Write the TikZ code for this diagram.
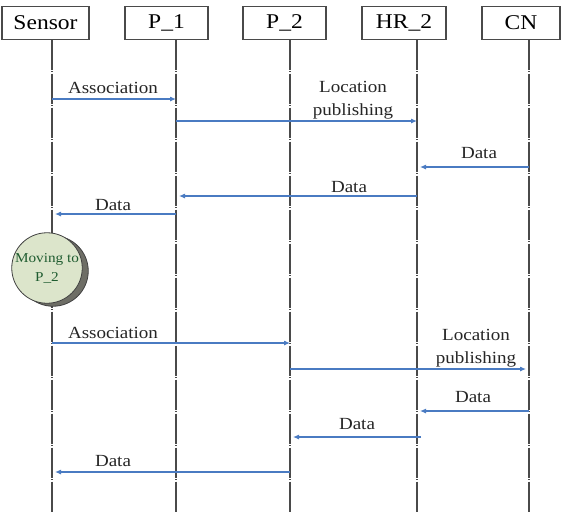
\documentclass[tikz,border=0pt]{standalone}
\usepackage{fontspec}
\setmainfont[FakeStretch=1.12]{Liberation Serif}
\usetikzlibrary{arrows.meta,shadows}
\definecolor{arrowblue}{HTML}{4A7BC2}
\definecolor{linegray}{HTML}{4A4A4A}
\definecolor{movefill}{HTML}{DCE5CB}
\definecolor{movetext}{HTML}{1F5C30}
\definecolor{shadowgray}{HTML}{6E6E66}
\tikzset{
  actor/.style={draw=linegray, line width=1.2pt, minimum height=33pt, inner sep=0pt, font=\fontsize{21}{24}\selectfont},
  lifeline/.style={draw=linegray, line width=1.3pt, dash pattern=on 30pt off 1.5pt on 1pt off 1.5pt},
  msg/.style={draw=arrowblue, line width=1.1pt, -{Latex[length=6pt,width=5pt]}},
  msgl/.style={msg, shorten >=3pt},
  lbl/.style={font=\fontsize{17}{22.5}\selectfont, inner sep=0pt, anchor=base, align=center, text=black!85},
  movebox/.style={circle, draw=black!75, line width=0.8pt, fill=movefill, minimum size=68pt, inner sep=0pt, align=center,
    text=movetext, font=\fontsize{13.6}{19}\selectfont,
    copy shadow={shadow xshift=6pt, shadow yshift=-3pt, fill=shadowgray, draw=black!75, line width=0.8pt}}
}
\begin{document}
\begin{tikzpicture}[x=1pt,y=-1pt]
\useasboundingbox (0,0) rectangle (562,512);
\fill[white] (0,0) rectangle (562,512);
% actors
\node[actor, minimum width=87pt] (sensor) at (45.5,22.8) {Sensor};
\node[actor, minimum width=83pt] (p1) at (166.5,22.8) {P\_1};
\node[actor, minimum width=83pt] (p2) at (284.5,22.8) {P\_2};
\node[actor, minimum width=84pt] (hr2) at (404,22.8) {HR\_2};
\node[actor, minimum width=78pt] (cn) at (521,22.8) {CN};
% lifelines
\coordinate (lsensor) at (52,39.5);
\coordinate (lp1) at (176,39.5);
\coordinate (lp2) at (290,39.5);
\coordinate (lhr2) at (417,39.5);
\coordinate (lcn) at (529,39.5);
\coordinate (bsensor) at (52,512);
\coordinate (bp1) at (176,512);
\coordinate (bp2) at (290,512);
\coordinate (bhr2) at (417,512);
\coordinate (bcn) at (529,512);
\draw[lifeline] (lsensor) -- (bsensor);
\draw[lifeline] (lp1) -- (bp1);
\draw[lifeline] (lp2) -- (bp2);
\draw[lifeline] (lhr2) -- (bhr2);
\draw[lifeline] (lcn) -- (bcn);
% moving node
\node[movebox] (move) at (47,268) {Moving to\\P\_2};
% messages, phase 1
\draw[msg] (lsensor |- 0,99) -- (lp1 |- 0,99);
\node[lbl] (l1) at (113,93) {Association};
\draw[msg] (lp1 |- 0,121) -- (lhr2 |- 0,121);
\node[lbl] (l2) at (353,115) {Location\\publishing};
\draw[msgl] (lcn |- 0,167) -- (lhr2 |- 0,167);
\node[lbl] (l3) at (479,158) {Data};
\draw[msgl] (lhr2 |- 0,196) -- (lp1 |- 0,196);
\node[lbl] (l4) at (349,192) {Data};
\draw[msgl] (lp1 |- 0,214) -- (lsensor |- 0,214);
\node[lbl] (l5) at (113,210) {Data};
% messages, phase 2
\draw[msg] (lsensor |- 0,343) -- (lp2 |- 0,343);
\node[lbl] (l6) at (113,338) {Association};
\draw[msg] (lp2 |- 0,369) -- ([xshift=-3pt]lcn |- 0,369);
\node[lbl] (l7) at (476,363) {Location\\publishing};
\draw[msgl] (lcn |- 0,411) -- (lhr2 |- 0,411);
\node[lbl] (l8) at (473,402) {Data};
\draw[msgl] ([xshift=4pt]lhr2 |- 0,437) -- (lp2 |- 0,437);
\node[lbl] (l9) at (357,429) {Data};
\draw[msgl] (lp2 |- 0,472) -- (lsensor |- 0,472);
\node[lbl] (l10) at (113,466) {Data};
\end{tikzpicture}
\end{document}
